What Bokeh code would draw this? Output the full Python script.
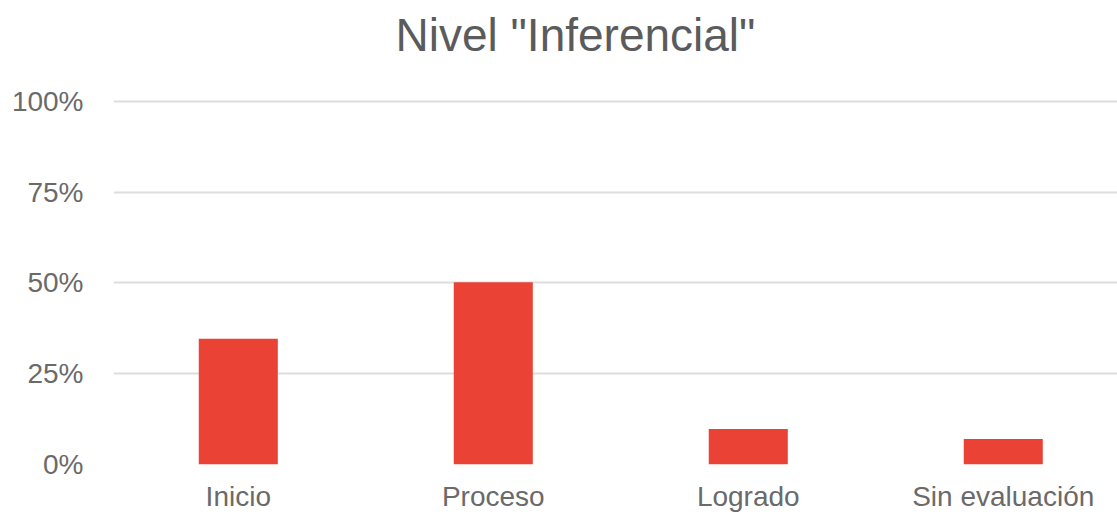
from bokeh.plotting import figure
from bokeh.models import Range1d, FixedTicker, PrintfTickFormatter, ColumnDataSource, Title
from bokeh.embed import file_html
from bokeh.resources import INLINE

title_text = 'Nivel "Inferencial"'
categories = ["Inicio", "Proceso", "Logrado", "Sin evaluación"]
values = [34.6, 50.2, 9.8, 7.0]
y_ticks = [0, 25, 50, 75, 100]

positions = [i + 0.5 for i in range(len(categories))]
source = ColumnDataSource(data=dict(x=positions, top=values, cat=categories))

p = figure(width=1117, height=514, output_backend="svg", toolbar_location=None,
           x_range=Range1d(0.0106, 3.948), y_range=Range1d(0, 100.5),
           min_border_left=113, min_border_right=0, min_border_bottom=48, min_border_top=99)

p.vbar(x="x", top="top", bottom=0, width=0.31, source=source,
       fill_color="#EA4335", line_color=None)

p.title.text = title_text
p.title.text_font = "Liberation Sans"
p.title.text_font_size = "46px"
p.title.text_font_style = "normal"
p.title.text_color = "#5b5b5b"
p.title.align = "left"
p.title.offset = 282
p.title.standoff = 4

spacer = Title(text=" ", text_font_size="31px", standoff=0)
p.add_layout(spacer, "above")

p.outline_line_color = None
p.background_fill_color = "white"
p.border_fill_color = "white"

p.xgrid.grid_line_color = None
p.ygrid.grid_line_color = "#dedede"
p.ygrid.grid_line_width = 2

p.yaxis.ticker = FixedTicker(ticks=y_ticks)
p.yaxis.formatter = PrintfTickFormatter(format="%d%%")
p.xaxis.ticker = FixedTicker(ticks=positions)
p.xaxis.major_label_overrides = {pos: c for pos, c in zip(positions, categories)}

for ax in (p.xaxis, p.yaxis):
    ax.axis_line_color = None
    ax.major_tick_line_color = None
    ax.minor_tick_line_color = None
    ax.major_tick_in = 0
    ax.major_tick_out = 0
    ax.minor_tick_in = 0
    ax.minor_tick_out = 0
    ax.major_label_text_font = "Liberation Sans"
    ax.major_label_text_font_size = "28px"
    ax.major_label_text_color = "#6a6a6a"

p.yaxis.major_label_standoff = 30
p.xaxis.major_label_standoff = 16

open("out.html", "w").write(file_html(p, INLINE))
